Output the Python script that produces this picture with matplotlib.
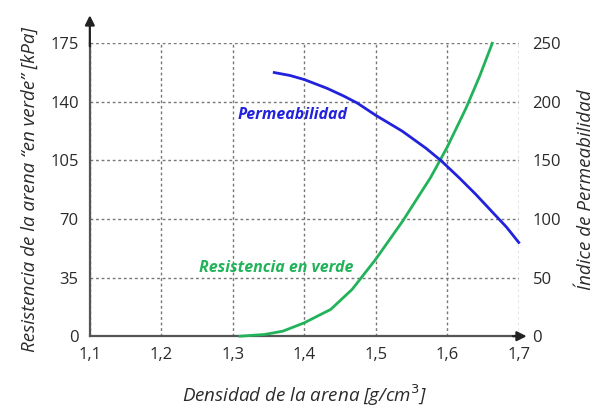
import matplotlib
matplotlib.use("Agg")
import matplotlib.pyplot as plt

# Data
perm_x = [1.358, 1.38, 1.40, 1.432, 1.455, 1.474, 1.50, 1.537, 1.57, 1.591, 1.617, 1.64, 1.663, 1.683, 1.70]
perm_y = [225, 222.5, 219, 211.5, 205, 199, 188.5, 175, 160.5, 150, 135, 121, 106, 93, 80]
res_x = [1.31, 1.344, 1.37, 1.40, 1.437, 1.467, 1.50, 1.538, 1.577, 1.60, 1.626, 1.645, 1.663]
res_y = [0, 1, 3, 8, 16, 28, 46, 69, 95, 113, 136, 155, 175]
x_ticks = [1.1, 1.2, 1.3, 1.4, 1.5, 1.6, 1.7]
x_labels = ["1,1", "1,2", "1,3", "1,4", "1,5", "1,6", "1,7"]
left_ticks = [0, 35, 70, 105, 140, 175]
right_ticks = [0, 50, 100, 150, 200, 250]

plt.rcParams['font.family'] = ['Open Sans', 'DejaVu Sans']
txt = '#2a2a2a'
blue = '#2222DD'
green = '#22B35A'

fig = plt.figure(figsize=(5.99, 4.08), dpi=100)
ax = fig.add_axes([0.150, 0.176, 0.716, 0.718])
ax.set_xlim(1.1, 1.7)
ax.set_ylim(0, 175)
ax.set_xticks(x_ticks)
ax.set_xticklabels(x_labels)
ax.set_yticks(left_ticks)
ax.grid(True, linestyle=(0, (2, 2)), color='#777777', linewidth=1.0)
for s in ['top', 'right']:
    ax.spines[s].set_visible(False)
for s in ['left', 'bottom']:
    ax.spines[s].set_color('#555555')
    ax.spines[s].set_linewidth(1.6)
ax.tick_params(length=0, labelsize=12, colors=txt, pad=8)

ax2 = ax.twinx()
ax2.set_ylim(0, 250)
ax2.set_yticks(right_ticks)
for s in ax2.spines.values():
    s.set_visible(False)
ax2.tick_params(length=0, labelsize=12, colors=txt, pad=10)

ax.plot(res_x, res_y, color=green, linewidth=2, clip_on=False, zorder=5,
        solid_joinstyle='round')
ax2.plot(perm_x, perm_y, color=blue, linewidth=2, clip_on=False, zorder=5,
         solid_joinstyle='round')

ax.text(1.307, 132, "Permeabilidad", color=blue, fontsize=11.5, fontweight='bold',
        fontstyle='italic', va='center', ha='left')
ax.text(1.253, 41, "Resistencia en verde", color=green, fontsize=11.5, fontweight='bold',
        fontstyle='italic', va='center', ha='left')

# arrows on axes
ax.annotate('', xy=(0, 1.105), xytext=(0, 0.98), xycoords='axes fraction',
            arrowprops=dict(arrowstyle='-|>', color='#222222', lw=1.6, mutation_scale=14),
            annotation_clip=False)
ax.annotate('', xy=(1.025, 0), xytext=(0.98, 0), xycoords='axes fraction',
            arrowprops=dict(arrowstyle='-|>', color='#222222', lw=1.6, mutation_scale=14),
            annotation_clip=False)

ax.set_xlabel("Densidad de la arena [g/cm$^3$]", fontsize=13.5, fontstyle='italic',
              color=txt, labelpad=14)
ax.set_ylabel("Resistencia de la arena “en verde” [kPa]", fontsize=13.5,
              fontstyle='italic', color=txt, labelpad=8)
ax2.set_ylabel("Índice de Permeabilidad", fontsize=13.5, fontstyle='italic',
               color=txt, labelpad=11)

fig.savefig("out.png", dpi=100)
